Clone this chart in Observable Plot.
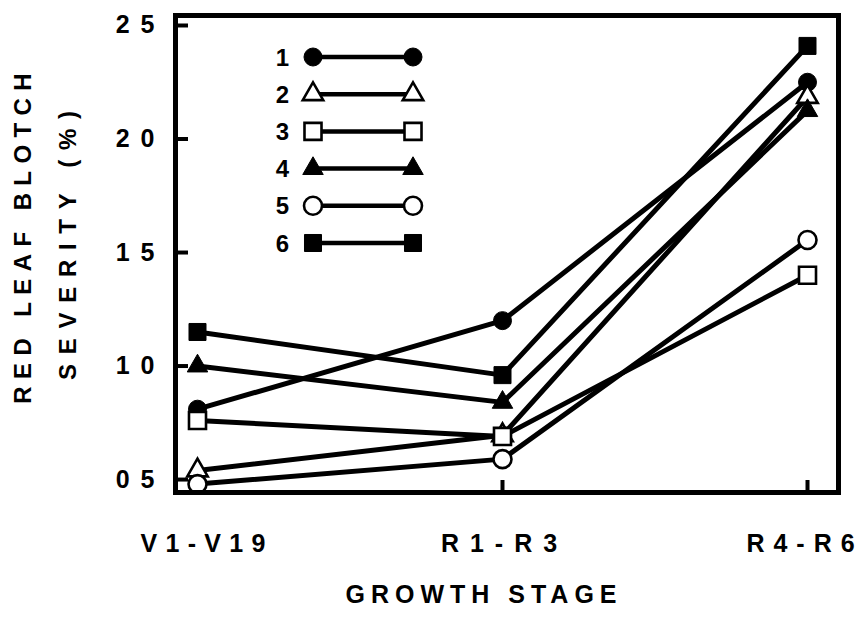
<!DOCTYPE html>
<html><head><meta charset="utf-8">
<script src="https://cdn.jsdelivr.net/npm/d3@7"></script>
<script src="https://cdn.jsdelivr.net/npm/@observablehq/plot@0.6"></script>
<style>
body{margin:0;background:#fff;}
</style></head><body><div id="chart"></div>
<script>
const stages = ["V1-V19", "R1-R3", "R4-R6"];
const seriesNames = ["1", "2", "3", "4", "5", "6"];
const s1 = [8.1, 12.0, 22.5];
const s2 = [5.4, 6.95, 21.85];
const s3 = [7.6, 6.9, 14.0];
const s4 = [10.0, 8.4, 21.25];
const s5 = [4.8, 5.9, 15.55];
const s6 = [11.5, 9.6, 24.1];
const yTicks = [5, 10, 15, 20, 25];
const yTickLabels = ["05", "10", "15", "20", "25"];
const symbols = ["circle", "triangle", "square", "triangle", "circle", "square"];
const filled = [true, false, false, true, false, true];
const yTitle1 = "RED LEAF BLOTCH";
const yTitle2 = "SEVERITY (%)";
const xTitle = "GROWTH STAGE";

const allSeries = [s1, s2, s3, s4, s5, s6];
const rows = allSeries.flatMap((vals, i) => vals.map((v, j) => ({series: seriesNames[i], stage: stages[j], value: v})));

const FONT = "'Liberation Sans', Arial, Helvetica, sans-serif";
const symR = {circle: 9, square: 9.6, triangle: 7.6};
// per-label horizontal nudge and letter spacing (layout only)
const xLabelDx = [9.6, 2, -2.5];
const xLabelSpacing = [8.3, 11, 9];

const dotMarks = seriesNames.map((name, i) =>
  Plot.dot(rows.filter(d => d.series === name), {
    x: "stage", y: "value",
    symbol: symbols[i],
    r: symR[symbols[i]],
    fill: filled[i] ? "black" : "white",
    stroke: "black",
    strokeWidth: filled[i] ? 1 : 2.6
  })
);

const xLabelMarks = stages.map((s, i) =>
  Plot.axisX({ticks: [s], tickSize: 0, tickPadding: 42, fontSize: 25, fontWeight: "bold", label: null, dx: xLabelDx[i]})
);

const chart = Plot.plot({
  width: 866,
  height: 630,
  marginLeft: 175,
  marginRight: 28,
  marginTop: 15,
  marginBottom: 138,
  style: {fontFamily: FONT, background: "white", color: "black"},
  x: {type: "point", domain: stages, range: [197, 807], padding: 0, axis: null},
  y: {domain: [4.43, 25.44], axis: null},
  marks: [
    Plot.axisY({ticks: yTicks, tickSize: -13, strokeWidth: 4, tickFormat: () => "", label: null}),
    Plot.axisY({ticks: yTicks, tickSize: 0, tickPadding: 10, tickFormat: d => yTickLabels[yTicks.indexOf(d)], fontSize: 25, fontWeight: "bold", label: null}),
    Plot.axisX({ticks: stages, tickSize: -12, strokeWidth: 4, tickFormat: () => "", label: null}),
    ...xLabelMarks,
    Plot.line(rows, {x: "stage", y: "value", z: "series", stroke: "black", strokeWidth: 5}),
    ...dotMarks,
    Plot.frame({stroke: "black", strokeWidth: 5}),
    Plot.text([yTitle1], {text: d => d, frameAnchor: "left", textAnchor: "middle", lineAnchor: "middle", rotate: -90, dx: -152, dy: -19.2, fontSize: 24, fontWeight: "bold"}),
    Plot.text([yTitle2], {text: d => d, frameAnchor: "left", textAnchor: "middle", lineAnchor: "middle", rotate: -90, dx: -107, dy: -13.4, fontSize: 24, fontWeight: "bold"}),
    Plot.text([xTitle], {text: d => d, frameAnchor: "bottom", textAnchor: "middle", lineAnchor: "top", dx: -23, dy: 93, fontSize: 25, fontWeight: "bold"})
  ]
});

const svg = d3.select(chart);
svg.selectAll('g[aria-label="x-axis tick label"] text').each(function() {
  const i = stages.indexOf(this.textContent);
  if (i >= 0) d3.select(this).style("letter-spacing", xLabelSpacing[i] + "px");
});
svg.selectAll('g[aria-label="y-axis tick label"] text').style("letter-spacing", "11px");
svg.selectAll("text").filter(function() { return this.textContent === yTitle1; }).style("letter-spacing", "7.4px");
svg.selectAll("text").filter(function() { return this.textContent === yTitle2; }).style("letter-spacing", "9.7px");
svg.selectAll("text").filter(function() { return this.textContent === xTitle; }).style("letter-spacing", "6px");

// Legend (layout in pixels)
const lg = svg.append("g").attr("aria-label", "legend");
const symType = {circle: d3.symbolCircle, square: d3.symbolSquare, triangle: d3.symbolTriangle};
const legY0 = 57, legDy = 37.2, legLabelX = 289, legX1 = 313, legX2 = 413;
seriesNames.forEach((name, i) => {
  const y = legY0 + i * legDy;
  lg.append("line").attr("x1", legX1).attr("x2", legX2).attr("y1", y).attr("y2", y)
    .attr("stroke", "black").attr("stroke-width", 4.5);
  const r = symR[symbols[i]];
  const path = d3.symbol().type(symType[symbols[i]]).size(Math.PI * r * r)();
  [legX1, legX2].forEach(x => {
    lg.append("path").attr("d", path).attr("transform", `translate(${x},${y})`)
      .attr("fill", filled[i] ? "black" : "white").attr("stroke", "black")
      .attr("stroke-width", filled[i] ? 1 : 2.6);
  });
  lg.append("text").attr("x", legLabelX).attr("y", y).attr("dy", "0.36em")
    .attr("text-anchor", "end").attr("font-size", 24).attr("font-weight", "bold")
    .attr("font-family", FONT).text(name);
});

document.getElementById("chart").appendChild(chart);
</script></body></html>
